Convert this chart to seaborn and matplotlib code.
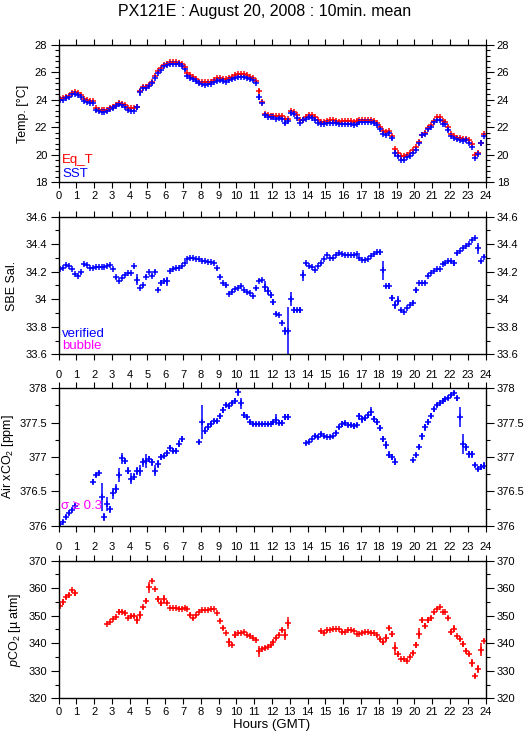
import numpy as np
import pandas as pd
import matplotlib
matplotlib.use("Agg")
import matplotlib.pyplot as plt
import seaborn as sns
from matplotlib.ticker import MultipleLocator

nan = np.nan

# 10-min bin centres, hours GMT
hours = np.arange(144) / 6 + 1 / 12

eq_t = [
    24.08, 24.10, 24.20, 24.30, 24.52, 24.55,
    24.50, 24.35, 24.05, 23.95, 23.92, 23.92,
    23.42, 23.28, 23.22, 23.22, 23.28, 23.38,
    23.48, 23.62, 23.80, 23.72, 23.60, 23.42,
    23.38, 23.38, 23.50, 24.62, 24.95, 24.95,
    25.08, 25.30, 25.72, 26.12, 26.28, 26.55,
    26.62, 26.72, 26.72, 26.72, 26.68, 26.60,
    26.38, 25.92, 25.80, 25.68, 25.52, 25.30,
    25.26, 25.26, 25.26, 25.30, 25.40, 25.58,
    25.55, 25.50, 25.48, 25.56, 25.68, 25.78,
    25.85, 25.85, 25.85, 25.78, 25.68, 25.56,
    25.38, 24.65, 23.85, 23.00, 22.90, 22.85,
    22.85, 22.80, 22.85, 22.80, 22.58, 22.60,
    23.15, 23.12, 22.92, 22.52, 22.55, 22.78,
    22.88, 22.88, 22.78, 22.52, 22.38, 22.38,
    22.42, 22.50, 22.52, 22.45, 22.40, 22.42,
    22.42, 22.42, 22.42, 22.38, 22.42, 22.50,
    22.50, 22.50, 22.50, 22.50, 22.45, 22.32,
    22.05, 21.75, 21.62, 21.75, 21.40, 20.40,
    20.10, 19.90, 19.88, 19.95, 20.12, 20.32,
    20.55, 20.95, 21.45, 21.60, 21.98, 22.20,
    22.48, 22.72, 22.72, 22.42, 22.35, 22.05,
    21.48, 21.40, 21.25, 21.20, 21.15, 21.15,
    21.05, 20.75, 19.95, 20.10, 20.85, 21.48,
]
eq_t_err = [
    .02, .02, .02, .02, .02, .02,
    .02, .03, .02, .02, .02, .02,
    .05, .02, .02, .02, .02, .02,
    .02, .02, .02, .02, .02, .02,
    .02, .02, .04, .10, .02, .02,
    .02, .02, .03, .03, .02, .02,
    .02, .02, .02, .02, .02, .02,
    .04, .03, .02, .02, .02, .02,
    .02, .02, .02, .02, .02, .02,
    .02, .02, .02, .02, .02, .02,
    .02, .02, .02, .02, .02, .02,
    .04, .15, .03, .04, .02, .02,
    .02, .02, .02, .02, .05, .06,
    .05, .02, .02, .02, .02, .02,
    .02, .02, .02, .02, .02, .02,
    .02, .02, .02, .02, .02, .02,
    .02, .02, .02, .02, .02, .02,
    .02, .02, .02, .02, .02, .02,
    .02, .03, .02, .02, .06, .10,
    .04, .02, .02, .02, .02, .02,
    .02, .03, .02, .02, .02, .02,
    .02, .02, .02, .02, .02, .05,
    .02, .02, .02, .02, .02, .02,
    .02, .03, .03, .03, .05, .02,
]
sst = [
    23.96, 23.96, 24.15, 24.22, 24.42, 24.42,
    24.35, 24.17, 23.88, 23.86, 23.79, 23.74,
    23.23, 23.16, 23.08, 23.08, 23.18, 23.30,
    23.40, 23.54, 23.69, 23.62, 23.45, 23.25,
    23.20, 23.16, 23.45, 24.54, 24.88, 24.88,
    25.00, 25.19, 25.60, 25.97, 26.16, 26.45,
    26.50, 26.62, 26.62, 26.62, 26.57, 26.47,
    26.20, 25.72, 25.60, 25.51, 25.36, 25.19,
    25.12, 25.10, 25.12, 25.17, 25.26, 25.39,
    25.43, 25.38, 25.29, 25.41, 25.51, 25.60,
    25.68, 25.68, 25.68, 25.60, 25.51, 25.43,
    25.19, 24.22, 23.74, 22.87, 22.72, 22.72,
    22.72, 22.63, 22.67, 22.58, 22.33, 22.48,
    23.06, 22.96, 22.65, 22.29, 22.53, 22.58,
    22.72, 22.67, 22.53, 22.33, 22.21, 22.21,
    22.29, 22.33, 22.33, 22.29, 22.24, 22.24,
    22.26, 22.26, 22.24, 22.19, 22.26, 22.36,
    22.36, 22.36, 22.36, 22.36, 22.29, 22.14,
    21.85, 21.53, 21.44, 21.60, 21.20, 20.10,
    19.91, 19.62, 19.62, 19.82, 19.91, 20.10,
    20.35, 20.83, 21.41, 21.51, 21.87, 22.04,
    22.38, 22.53, 22.53, 22.21, 22.21, 21.80,
    21.37, 21.25, 21.12, 21.07, 21.03, 21.07,
    20.83, 20.54, 19.74, 20.03, 20.83, 21.37,
]
sst_err = [
    .03, .03, .04, .04, .04, .03,
    .03, .06, .04, .03, .03, .04,
    .12, .05, .04, .03, .03, .03,
    .03, .03, .04, .04, .04, .05,
    .05, .04, .12, .25, .05, .04,
    .03, .03, .05, .08, .05, .05,
    .03, .03, .03, .03, .03, .03,
    .08, .06, .04, .04, .03, .03,
    .03, .03, .03, .03, .03, .04,
    .03, .04, .03, .04, .03, .03,
    .03, .03, .03, .03, .03, .03,
    .08, .22, .05, .20, .06, .04,
    .04, .04, .04, .04, .15, .20,
    .15, .05, .06, .05, .05, .04,
    .04, .04, .06, .04, .03, .03,
    .03, .03, .03, .03, .03, .03,
    .03, .03, .03, .03, .03, .03,
    .03, .03, .03, .03, .03, .04,
    .05, .08, .06, .05, .15, .25,
    .12, .05, .04, .05, .04, .04,
    .05, .08, .06, .05, .05, .05,
    .04, .03, .03, .05, .04, .15,
    .06, .04, .03, .03, .03, .03,
    .05, .06, .06, .08, .15, .06,
]
salinity = [
    34.220, 34.230, 34.250, 34.245, 34.220, 34.180,
    34.170, 34.195, 34.255, 34.250, 34.230, 34.225,
    34.235, 34.235, 34.235, 34.235, 34.240, 34.250,
    34.220, 34.160, 34.130, 34.155, 34.175, 34.190,
    34.190, 34.240, 34.140, 34.085, 34.100, 34.165,
    34.200, 34.170, 34.200, 34.070, 34.120, 34.130,
    34.130, 34.205, 34.220, 34.225, 34.225, 34.245,
    34.260, 34.290, 34.300, 34.300, 34.295, 34.290,
    34.280, 34.275, 34.270, 34.270, 34.265, 34.225,
    34.165, 34.120, 34.100, 34.040, 34.055, 34.075,
    34.080, 34.095, 34.070, 34.055, 34.045, 34.025,
    34.080, 34.135, 34.140, 34.090, 34.060, 34.030,
    33.980, 33.895, 33.885, 33.830, 33.770, 33.770,
    34.000, 33.920, 33.920, 33.920, 34.175, 34.260,
    34.240, 34.235, 34.215, 34.240, 34.260, 34.290,
    34.320, 34.300, 34.300, 34.320, 34.335, 34.330,
    34.320, 34.320, 34.320, 34.325, 34.330, 34.300,
    34.285, 34.285, 34.295, 34.315, 34.330, 34.340,
    34.340, 34.210, 34.095, 34.095, 34.010, 33.960,
    33.990, 33.920, 33.910, 33.935, 33.960, 33.975,
    34.065, 34.115, 34.120, 34.120, 34.170, 34.190,
    34.205, 34.220, 34.220, 34.255, 34.260, 34.275,
    34.275, 34.265, 34.335, 34.350, 34.370, 34.390,
    34.405, 34.430, 34.445, 34.370, 34.275, 34.310,
]
salinity_err = [
    .006, .006, .006, .006, .006, .006,
    .006, .010, .010, .006, .006, .006,
    .006, .006, .006, .006, .006, .006,
    .010, .010, .006, .006, .006, .006,
    .006, .010, .040, .006, .010, .010,
    .006, .010, .010, .010, .020, .020,
    .035, .006, .006, .006, .006, .006,
    .006, .006, .006, .006, .006, .006,
    .006, .006, .006, .006, .006, .010,
    .010, .006, .010, .010, .010, .006,
    .006, .006, .006, .006, .006, .006,
    .010, .010, .010, .040, .030, .020,
    .020, .010, .010, .010, .030, .170,
    .050, .020, .010, .020, .040, .010,
    .006, .006, .006, .006, .010, .006,
    .006, .006, .006, .006, .006, .006,
    .006, .006, .006, .006, .006, .006,
    .006, .006, .006, .006, .006, .010,
    .020, .070, .010, .020, .020, .030,
    .030, .010, .006, .006, .006, .010,
    .020, .006, .006, .010, .010, .006,
    .006, .006, .006, .006, .006, .010,
    .010, .020, .010, .006, .006, .006,
    .006, .006, .006, .040, .010, .010,
]
air_xco2 = [
    376.02, 376.06, 376.13, 376.19, 376.23, 376.29,
    nan, nan, nan, nan, nan, 376.64,
    376.74, 376.77, 376.42, 376.13, 376.32, 376.24,
    376.47, 376.54, 376.74, 376.98, 376.94, 376.80,
    376.68, 376.71, 376.79, 376.80, 376.92, 376.94,
    376.97, 376.92, 376.80, 376.90, 377.00, 377.01,
    377.05, 377.13, 377.09, 377.09, 377.19, 377.26,
    nan, nan, nan, nan, nan, 377.22,
    377.51, 377.38, 377.44, 377.48, 377.52, 377.52,
    377.59, 377.68, 377.75, 377.74, 377.78, 377.82,
    377.94, 377.78, 377.61, 377.58, 377.51, 377.48,
    377.48, 377.48, 377.48, 377.48, 377.48, 377.48,
    377.51, 377.54, 377.50, 377.50, 377.58, 377.58,
    nan, nan, nan, nan, nan, 377.20,
    377.22, 377.26, 377.30, 377.29, 377.33, 377.30,
    377.29, 377.29, 377.30, 377.35, 377.43, 377.48,
    377.49, 377.46, 377.46, 377.45, 377.46, 377.59,
    377.55, 377.56, 377.61, 377.66, 377.55, 377.51,
    377.42, 377.26, 377.17, 377.03, 377.00, 376.93,
    nan, nan, nan, nan, nan, 376.95,
    377.03, 377.15, 377.30, 377.43, 377.51, 377.60,
    377.69, 377.75, 377.78, 377.82, 377.84, 377.86,
    377.90, 377.93, 377.85, 377.58, 377.19, 377.14,
    377.04, 377.04, 376.88, 376.82, 376.85, 376.87,
]
air_xco2_err = [
    .02, .02, .03, .03, .03, .02,
    nan, nan, nan, nan, nan, .04,
    .03, .03, .20, .06, .10, .05,
    .08, .07, .10, .08, .05, .05,
    .08, .05, .06, .08, .06, .10,
    .05, .05, .08, .06, .04, .03,
    .03, .05, .04, .04, .05, .05,
    nan, nan, nan, nan, nan, .03,
    .25, .05, .05, .04, .03, .03,
    .04, .04, .03, .04, .03, .04,
    .05, .08, .05, .03, .03, .03,
    .03, .03, .03, .02, .03, .02,
    .03, .08, .03, .03, .04, .04,
    nan, nan, nan, nan, nan, .02,
    .02, .02, .03, .03, .03, .02,
    .02, .02, .02, .03, .03, .04,
    .03, .03, .03, .04, .03, .05,
    .05, .04, .04, .06, .04, .04,
    .05, .05, .06, .05, .04, .05,
    nan, nan, nan, nan, nan, .02,
    .03, .04, .05, .05, .04, .04,
    .04, .03, .03, .03, .03, .03,
    .03, .03, .03, .15, .15, .05,
    .05, .05, .03, .03, .04, .05,
]
pco2 = [
    353.7, 354.9, 356.8, 357.5, 359.2, 358.1,
    nan, nan, nan, nan, nan, nan,
    nan, nan, nan, nan, 346.9, 347.7,
    348.8, 349.5, 351.5, 351.5, 351.0, 349.2,
    349.8, 349.9, 348.4, 350.2, 353.1, 355.5,
    360.3, 362.7, 359.7, 356.1, 354.5, 356.0,
    354.8, 352.7, 352.7, 352.9, 352.6, 352.6,
    352.7, 352.5, 350.2, 349.1, 350.2, 351.3,
    352.0, 352.1, 352.0, 352.4, 352.4, 350.9,
    348.2, 345.5, 343.7, 340.3, 339.5, 343.1,
    343.7, 343.7, 344.0, 343.0, 342.7, 341.9,
    341.3, 337.1, 337.9, 338.3, 338.8, 339.3,
    340.5, 341.9, 343.1, 344.8, 343.1, 347.3,
    nan, nan, nan, nan, nan, nan,
    nan, nan, nan, nan, 344.3, 343.9,
    344.7, 344.9, 345.2, 345.3, 345.3, 344.1,
    344.1, 344.7, 344.8, 344.4, 343.5, 343.5,
    343.9, 344.2, 344.2, 343.9, 343.7, 342.9,
    341.5, 340.3, 341.9, 345.5, 343.3, 338.1,
    336.1, 334.3, 334.1, 333.7, 335.1, 336.5,
    339.3, 343.4, 348.3, 346.4, 348.4, 349.0,
    351.2, 352.5, 353.1, 351.3, 351.3, 349.1,
    344.1, 345.3, 342.5, 341.5, 339.7, 337.3,
    336.1, 332.9, 328.1, 330.7, 337.7, 340.9,
]
pco2_err = [
    .4, 1.0, .6, .8, .5, .8,
    nan, nan, nan, nan, nan, nan,
    nan, nan, nan, nan, .4, .4,
    .4, .4, .8, .6, .6, .5,
    .8, .6, 1.5, 1.5, .5, .8,
    2.0, .5, .4, 1.0, .8, 1.5,
    .6, .4, .4, .4, .4, .4,
    .4, .4, .8, .6, .6, .4,
    .4, .4, .4, .4, .4, .4,
    .5, .6, .5, 1.5, .6, 1.2,
    .5, .5, .4, .5, .5, .5,
    .5, 2.0, .8, .6, .5, .5,
    .6, .8, .6, .6, 2.0, 2.2,
    nan, nan, nan, nan, nan, nan,
    nan, nan, nan, nan, .4, .6,
    .5, .4, .4, .4, .4, .6,
    .5, .4, .4, .4, .4, .4,
    .4, .4, .4, .4, .4, .5,
    .6, .8, 1.5, .8, 1.2, 2.5,
    1.2, .5, .5, .5, .6, .6,
    1.2, 2.0, 1.0, .8, 1.0, .8,
    .4, .5, .4, .4, .4, .8,
    1.2, 1.2, .6, .6, 1.2, .8,
    .6, 1.5, .6, 1.5, 2.5, .6,
]

hour_ticks = list(range(0, 25))

BLUE = "#0000ff"
RED = "#ff0000"
MAGENTA = "#ff00ff"

sns.set_style("ticks", {"axes.edgecolor": "black", "xtick.color": "black",
                        "ytick.color": "black", "text.color": "black",
                        "axes.labelcolor": "black"})
plt.rcParams["font.family"] = ["Liberation Sans", "DejaVu Sans"]
plt.rcParams["mathtext.fontset"] = "custom"
plt.rcParams["mathtext.rm"] = "Liberation Sans"
plt.rcParams["mathtext.it"] = "Liberation Sans:italic"
plt.rcParams["mathtext.default"] = "regular"


def draw_series(ax, values, errs, color):
    df = pd.DataFrame({"hour": hours, "value": values, "err": errs}).dropna()
    ax.vlines(df["hour"], df["value"] - df["err"], df["value"] + df["err"],
              color=color, lw=1.1)
    sns.scatterplot(data=df, x="hour", y="value", marker="+", s=24,
                    color=color, linewidth=1.1, ax=ax, legend=False)


def style_axes(ax, ylim, major, minor, label, label_x, top_labels, bottom_labels):
    ax.set_xlim(0, 24)
    ax.set_ylim(*ylim)
    ax.set_xticks(hour_ticks)
    ax.set_xticklabels([str(h) for h in hour_ticks])
    ax.yaxis.set_major_locator(MultipleLocator(major))
    ax.yaxis.set_minor_locator(MultipleLocator(minor))
    ax.yaxis.set_major_formatter(plt.FuncFormatter(lambda v, p: f"{v:g}"))
    ax.tick_params(axis="x", which="major", direction="out", length=4, width=0.8,
                   top=True, bottom=True, labeltop=top_labels,
                   labelbottom=bottom_labels, labelsize=8, pad=2)
    ax.tick_params(axis="y", which="major", direction="out", length=6, width=0.8,
                   left=True, right=True, labelleft=True, labelright=True,
                   labelsize=8, pad=2)
    ax.tick_params(axis="y", which="minor", direction="out", length=3, width=0.8,
                   left=True, right=True)
    for sp in ax.spines.values():
        sp.set_visible(True)
        sp.set_linewidth(1.0)
    ax.set_xlabel("")
    ax.set_ylabel(label, fontsize=9)
    ax.yaxis.set_label_coords(label_x, 0.5)


fig = plt.figure(figsize=(5.29, 7.39), dpi=100)
left, width, height = 0.1106, 0.8072, 0.1862
bottoms = [0.7533, 0.5206, 0.2886, 0.0551]
axes = [fig.add_axes([left, b, width, height]) for b in bottoms]

ax = axes[0]
draw_series(ax, eq_t, eq_t_err, RED)
draw_series(ax, sst, sst_err, BLUE)
style_axes(ax, (18, 28), 2, 0.4, "Temp. [°C]", -0.068, False, True)
ax.text(0.008, 0.137, "Eq_T", color=RED, fontsize=9.5, transform=ax.transAxes, va="baseline")
ax.text(0.008, 0.041, "SST", color=BLUE, fontsize=9.5, transform=ax.transAxes, va="baseline")

ax = axes[1]
draw_series(ax, salinity, salinity_err, BLUE)
style_axes(ax, (33.6, 34.6), 0.2, 0.1, "SBE Sal.", -0.094, False, False)
ax.text(0.008, 0.127, "verified", color=BLUE, fontsize=9.5, transform=ax.transAxes, va="baseline")
ax.text(0.008, 0.036, "bubble", color=MAGENTA, fontsize=9.5, transform=ax.transAxes, va="baseline")

ax = axes[2]
draw_series(ax, air_xco2, air_xco2_err, BLUE)
style_axes(ax, (376, 378), 0.5, 0.25, "Air xCO$_2$ [ppm]", -0.100, True, False)
ax.text(0.005, 0.12, "σ ≥ 0.3", color=MAGENTA, fontsize=9.5, transform=ax.transAxes, va="baseline")

ax = axes[3]
draw_series(ax, pco2, pco2_err, RED)
style_axes(ax, (320, 370), 10, 5, r"$\mathit{p}$CO$_2$ [µ atm]", -0.082, True, True)
ax.set_xlabel("Hours (GMT)", fontsize=9.5, labelpad=2)

fig.suptitle("PX121E : August 20, 2008 : 10min. mean", fontsize=11.5, y=0.984, va="center")

fig.savefig("out.png", dpi=100, facecolor="white")
